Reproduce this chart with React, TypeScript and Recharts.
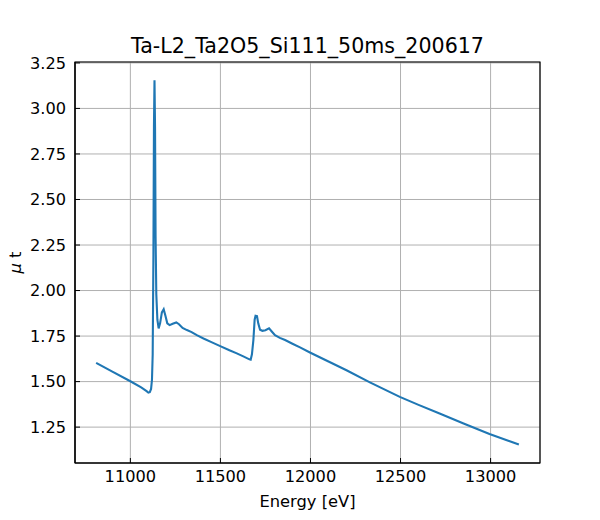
import React from 'react';
import { LineChart, Line, XAxis, YAxis, CartesianGrid, ReferenceArea } from 'recharts';

const energy = [
  10810, 10900, 11000, 11060, 11090, 11100, 11108, 11115, 11120, 11124, 11128, 11131, 11134, 11137, 11140, 11144,
  11150, 11157, 11165, 11175, 11185, 11195, 11205, 11218, 11235, 11255, 11270, 11290, 11314, 11340, 11369, 11406,
  11450, 11499, 11550, 11591, 11630, 11661, 11668, 11675, 11683, 11690, 11695, 11703, 11710, 11720, 11733, 11750,
  11770, 11785, 11803, 11830, 11859, 11900, 11942, 11997, 12100, 12200, 12330, 12496, 12600, 12717, 12850, 12994,
  13157,
];
const mu = [
  1.603, 1.555, 1.502, 1.468, 1.448, 1.44, 1.442, 1.46, 1.51, 1.65, 2.2, 2.9, 3.155, 2.9, 2.3, 1.98,
  1.84, 1.792, 1.82, 1.88, 1.897, 1.86, 1.82, 1.81, 1.818, 1.825, 1.815, 1.795, 1.783, 1.772, 1.755, 1.737,
  1.717, 1.695, 1.672, 1.655, 1.637, 1.622, 1.62, 1.65, 1.728, 1.84, 1.862, 1.86, 1.82, 1.785, 1.779, 1.782,
  1.792, 1.775, 1.755, 1.74, 1.728, 1.708, 1.688, 1.66, 1.61, 1.562, 1.496, 1.416, 1.372, 1.325, 1.27, 1.212,
  1.155,
];
const xTicks = [11000, 11500, 12000, 12500, 13000];
const yTicks = [1.25, 1.5, 1.75, 2.0, 2.25, 2.5, 2.75, 3.0, 3.25];
const title = 'Ta-L2_Ta2O5_Si111_50ms_200617';
const xLabel = 'Energy [eV]';

const rows = energy.map((e, i) => ({ E: e, mu: mu[i] }));
const xDomain = [10692.6, 13274.4];
const yDomain = [1.053, 3.255];
const FONT = '"DejaVu Sans", sans-serif';

export default function App() {
  return (
    <div style={{ position: 'absolute', left: 0, top: 0, width: 600, height: 520, background: '#fff' }}>
      <LineChart width={600} height={520} data={rows} margin={{ top: 62, right: 60, bottom: 0, left: 0 }}>
        <CartesianGrid stroke="#b0b0b0" strokeWidth={1} />
        <XAxis
          dataKey="E"
          type="number"
          domain={xDomain}
          allowDataOverflow
          ticks={xTicks}
          height={57}
          tickSize={-5}
          tickMargin={12}
          stroke="#000"
          axisLine={{ stroke: '#000', strokeWidth: 1.2 }}
          tickLine={{ stroke: '#000', strokeWidth: 1 }}
          tick={{ fill: '#000', fontSize: 16.2, fontFamily: FONT }}
          label={{
            content: (props: any) => {
              const vb = props.viewBox;
              return (
                <text x={vb.x + vb.width / 2} y={506.5} textAnchor="middle" fontSize={16.3} fontFamily={FONT} fill="#000">
                  {xLabel}
                </text>
              );
            },
          }}
        />
        <YAxis
          type="number"
          domain={yDomain}
          allowDataOverflow
          ticks={yTicks}
          width={75}
          tickSize={-5}
          tickMargin={14}
          tickFormatter={(v: number) => v.toFixed(2)}
          axisLine={{ stroke: '#000', strokeWidth: 1.2 }}
          tickLine={{ stroke: '#000', strokeWidth: 1 }}
          tick={{ fill: '#000', fontSize: 16.2, fontFamily: FONT }}
          label={{
            content: (props: any) => {
              const vb = props.viewBox;
              const cy = vb.y + vb.height / 2;
              return (
                <text x={21} y={cy} transform={`rotate(-90, 21, ${cy})`} textAnchor="middle" fontSize={16.3} fontFamily={FONT} fill="#000">
                  <tspan fontStyle="italic">μ</tspan> t
                </text>
              );
            },
          }}
        />
        <Line
          type="linear"
          dataKey="mu"
          stroke="#1f77b4"
          strokeWidth={2.1}
          dot={false}
          activeDot={false}
          isAnimationActive={false}
        />
        <ReferenceArea
          x1={xDomain[0]}
          x2={xDomain[1]}
          y1={yDomain[0]}
          y2={yDomain[1]}
          fill="none"
          fillOpacity={0}
          stroke="#000"
          strokeWidth={1.2}
          ifOverflow="visible"
          label={{
            content: (props: any) => {
              const vb = props.viewBox;
              return (
                <text x={vb.x + vb.width / 2} y={vb.y - 8.7} textAnchor="middle" fontSize={20.6} fontFamily={FONT} fill="#000">
                  {title}
                </text>
              );
            },
          }}
        />
      </LineChart>
    </div>
  );
}
